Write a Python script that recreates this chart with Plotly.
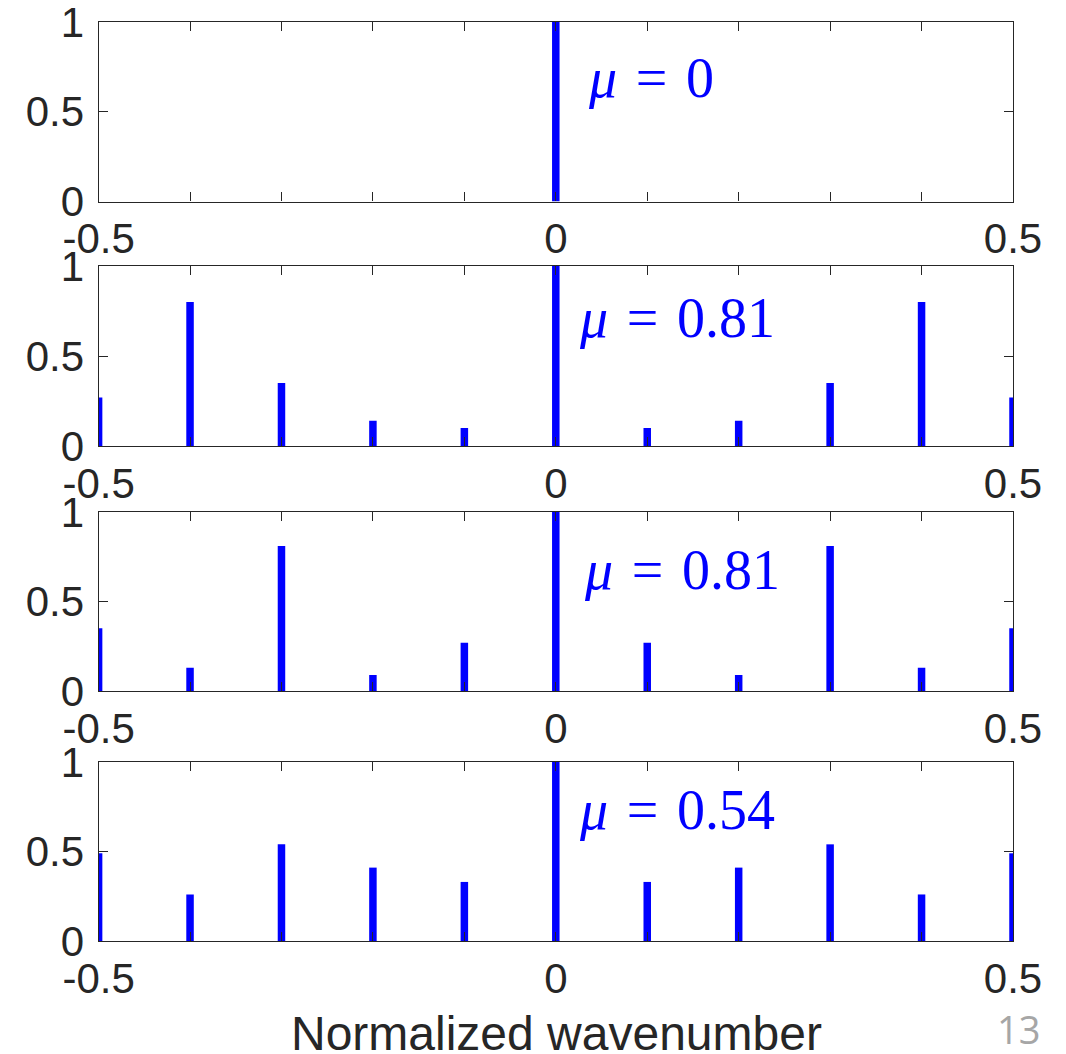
import plotly.graph_objects as go

# ---- data ----
wavenumber = [-0.5, -0.4, -0.3, -0.2, -0.1, 0.0, 0.1, 0.2, 0.3, 0.4, 0.5]
spectrum_1 = [0, 0, 0, 0, 0, 1.0, 0, 0, 0, 0, 0]
spectrum_2 = [0.27, 0.80, 0.35, 0.14, 0.10, 1.0, 0.10, 0.14, 0.35, 0.80, 0.27]
spectrum_3 = [0.35, 0.13, 0.81, 0.09, 0.27, 1.0, 0.27, 0.09, 0.81, 0.13, 0.35]
spectrum_4 = [0.49, 0.26, 0.54, 0.41, 0.33, 1.0, 0.33, 0.41, 0.54, 0.26, 0.49]
mu_labels = ["0", "0.81", "0.81", "0.54"]
x_tick_vals = wavenumber
x_tick_text = ["-0.5", "", "", "", "", "0", "", "", "", "", "0.5"]
y_tick_vals = [0, 0.5, 1]
y_tick_text = ["0", "0.5", "1"]

spectra = [spectrum_1, spectrum_2, spectrum_3, spectrum_4]

# the page body has an 8px margin, so the figure is 8px smaller and
# all reference pixel positions are shifted by -8
OFF = 8
W, H = 1066 - OFF, 1054 - OFF
panels_px = [(22, 201.5), (266, 446), (512, 691), (762, 941)]
x_left_px, x_right_px = 98.6, 1013
mu_pos_px = [(586, 78.5), (577, 318), (582, 570), (577, 810)]


def px_x(p):
    return (p - OFF) / W


def px_y(p):
    return 1 - (p - OFF) / H


AX = "#262626"
BLUE = "#0000FF"
TICKFONT = dict(family="Liberation Sans, Arial, sans-serif", size=42, color=AX)

fig = go.Figure()
layout = dict(
    width=W, height=H,
    margin=dict(l=0, r=0, t=0, b=0),
    paper_bgcolor="white", plot_bgcolor="white",
    showlegend=False,
)

annotations = []
for i, (vals, (top, bot)) in enumerate(zip(spectra, panels_px)):
    n = i + 1
    xa = "x" if n == 1 else f"x{n}"
    ya = "y" if n == 1 else f"y{n}"
    # stems drawn as one-sided error bars from the baseline
    fig.add_trace(go.Scatter(
        x=wavenumber, y=[0] * len(vals), mode="markers",
        marker=dict(size=0.1, color=BLUE, opacity=0),
        error_y=dict(type="data", symmetric=False, array=vals,
                     arrayminus=[0] * len(vals), width=0,
                     thickness=7.5, color=BLUE),
        xaxis=xa, yaxis=ya, cliponaxis=False,
        customdata=vals, hovertemplate="%{x}: %{customdata}<extra></extra>",
    ))
    xkey = "xaxis" if n == 1 else f"xaxis{n}"
    ykey = "yaxis" if n == 1 else f"yaxis{n}"
    layout[xkey] = dict(
        domain=[px_x(x_left_px), px_x(x_right_px)],
        anchor=ya, range=[-0.5, 0.5],
        tickmode="array", tickvals=x_tick_vals, ticktext=x_tick_text,
        ticks="inside", ticklen=9, tickwidth=1.3, tickcolor=AX,
        showline=True, linecolor=AX, linewidth=1.3, mirror="ticks",
        showgrid=False, zeroline=False,
        tickfont=TICKFONT, ticklabelstandoff=0,
        ticklabeloverflow="allow",
        automargin=False,
    )
    layout[ykey] = dict(
        domain=[px_y(bot), px_y(top)],
        anchor=xa, range=[0, 1],
        tickmode="array", tickvals=y_tick_vals, ticktext=y_tick_text,
        ticks="inside", ticklen=9, tickwidth=1.3, tickcolor=AX,
        showline=True, linecolor=AX, linewidth=1.3, mirror="ticks",
        showgrid=False, zeroline=False,
        tickfont=TICKFONT, ticklabelstandoff=5,
        ticklabeloverflow="allow",
        automargin=False,
    )
    mx, my = mu_pos_px[i]
    annotations.append(dict(
        xref="paper", yref="paper", x=px_x(mx), y=px_y(my),
        xanchor="left", yanchor="middle", showarrow=False,
        text=f"<i>μ</i>\u2004=\u2004{mu_labels[i]}",
        font=dict(family="Liberation Serif, Times New Roman, serif", size=56, color=BLUE),
    ))

annotations.append(dict(
    xref="paper", yref="paper", x=px_x(556.5), y=px_y(1033),
    xanchor="center", yanchor="middle", showarrow=False,
    text="Normalized wavenumber",
    font=dict(family="Liberation Sans, Arial, sans-serif", size=48, color=AX),
))
annotations.append(dict(
    xref="paper", yref="paper", x=px_x(1018), y=px_y(1029),
    xanchor="center", yanchor="middle", showarrow=False,
    text="13",
    font=dict(family="Open Sans, sans-serif", size=38, color="#A6A6A6"),
))
layout["annotations"] = annotations

fig.update_layout(**layout)
fig.write_html("out.html")
